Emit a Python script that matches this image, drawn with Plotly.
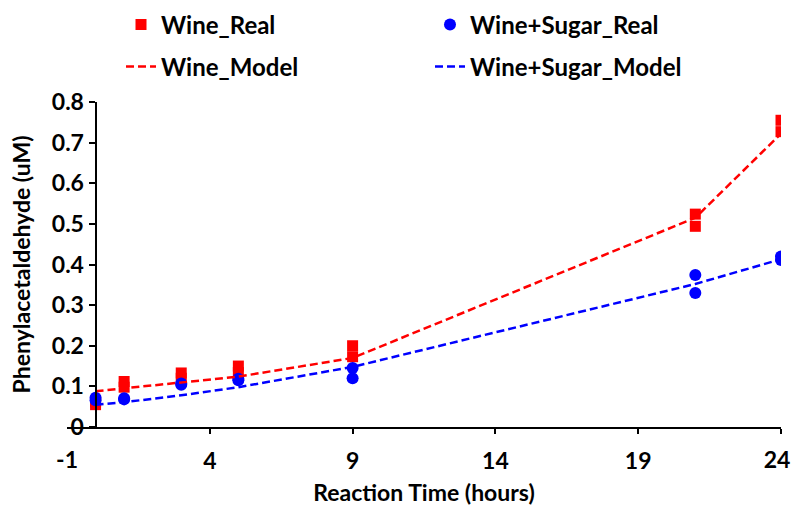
import plotly.graph_objects as go

# ---- data ----
times_real = [0, 0, 1, 1, 3, 3, 5, 5, 9, 9, 21, 21, 24, 24]
wine_real = [0.055, 0.062, 0.112, 0.098, 0.133, 0.120, 0.150, 0.134, 0.200, 0.173, 0.524, 0.494, 0.755, 0.727]
sugar_real = [0.072, 0.066, 0.071, 0.068, 0.107, 0.104, 0.119, 0.115, 0.145, 0.120, 0.374, 0.330, 0.420, 0.411]

times_model = [0, 1, 3, 5, 9, 21, 24]
wine_model = [0.088, 0.095, 0.109, 0.124, 0.170, 0.515, 0.722]
sugar_model = [0.055, 0.061, 0.078, 0.098, 0.148, 0.352, 0.413]

x_tickvals = [-1, 4, 9, 14, 19, 24]
x_ticktext = ["-1", "4", "9", "14", "19", "24"]
y_tickvals = [0, 0.1, 0.2, 0.3, 0.4, 0.5, 0.6, 0.7, 0.8]
y_ticktext = ["0", "0.1", "0.2", "0.3", "0.4", "0.5", "0.6", "0.7", "0.8"]

FONT = "Lato"
FS = 23
LFS = 24
RED = "#ff0000"
BLUE = "#0000ff"
XRANGE = [x_tickvals[0], x_tickvals[-1]]

fig = go.Figure()
fig.add_trace(go.Scatter(x=times_real, y=wine_real, mode="markers", name="Wine_Real",
                         marker=dict(symbol="square", size=11, color=RED), legend="legend"))
fig.add_trace(go.Scatter(x=times_real, y=sugar_real, mode="markers", name="Wine+Sugar_Real",
                         marker=dict(symbol="circle", size=12, color=BLUE), legend="legend"))
fig.add_trace(go.Scatter(x=times_model, y=wine_model, mode="lines", name="Wine_Model",
                         line=dict(color=RED, width=2.5, dash="8px,4px"), legend="legend2"))
fig.add_trace(go.Scatter(x=times_model, y=sugar_model, mode="lines", name="Wine+Sugar_Model",
                         line=dict(color=BLUE, width=2.5, dash="8px,4px"), legend="legend2"))
# empty helper traces so the overlay label axes get drawn
fig.add_trace(go.Scatter(x=[], y=[], xaxis="x2", yaxis="y", showlegend=False, hoverinfo="skip"))
fig.add_trace(go.Scatter(x=[], y=[], xaxis="x3", yaxis="y", showlegend=False, hoverinfo="skip"))

legend_common = dict(orientation="h", xref="container", yref="container", xanchor="left",
                     yanchor="middle", entrywidth=264, entrywidthmode="pixels",
                     font=dict(family=FONT, size=LFS, color="black", weight="bold"),
                     bgcolor="rgba(0,0,0,0)", borderwidth=0, itemwidth=30)

axis_font = dict(family=FONT, size=FS, color="black", weight="bold")

label_axis = dict(range=XRANGE, domain=[0, 1], overlaying="x", anchor="y", side="bottom",
                  showline=False, ticks="outside", ticklen=5, tickwidth=2,
                  tickcolor="rgba(0,0,0,0)", showgrid=False, zeroline=False,
                  tickfont=axis_font, ticklabelstandoff=7, automargin=False,
                  ticklabeloverflow="allow")

fig.update_layout(
    width=792, height=508,
    margin=dict(l=67, r=11, t=102, b=81, autoexpand=False),
    paper_bgcolor="white", plot_bgcolor="white",
    font=dict(family=FONT, size=FS, color="black"),
    legend=dict(x=121 / 792, y=1 - 25 / 508, **legend_common),
    legend2=dict(x=121 / 792, y=1 - 67 / 508, **legend_common),
    # main x axis: line, tick marks at 4..24, labels 4..19
    xaxis=dict(range=XRANGE, domain=[0, 1], tickvals=x_tickvals[1:],
               ticktext=x_ticktext[1:-1] + [""],
               showline=True, linecolor="black", linewidth=2, ticks="outside", ticklen=5,
               tickwidth=2, tickcolor="black", showgrid=False, zeroline=False,
               tickfont=axis_font, ticklabelstandoff=7, automargin=False,
               ticklabeloverflow="allow",
               title=dict(text="Reaction Time (hours)", standoff=12, font=axis_font)),
    # "-1" label (no tick mark in the original)
    xaxis2=dict(tickvals=x_tickvals[:1], ticktext=x_ticktext[:1], **label_axis),
    # "24" label, nudged left so it stays inside the page
    xaxis3=dict(tickvals=x_tickvals[-1:], ticktext=x_ticktext[-1:], ticklabelshift=-4,
                **label_axis),
    yaxis=dict(range=[0, 0.8], anchor="free", position=1 / 25, tickvals=y_tickvals,
               ticktext=y_ticktext, showline=True, linecolor="black", linewidth=2,
               ticks="outside", ticklen=6, tickwidth=2, tickcolor="black", showgrid=False,
               zeroline=False, tickfont=axis_font, automargin=False,
               title=dict(text="Phenylacetaldehyde (uM)", standoff=14, font=axis_font)),
)

fig.write_html("out.html")
